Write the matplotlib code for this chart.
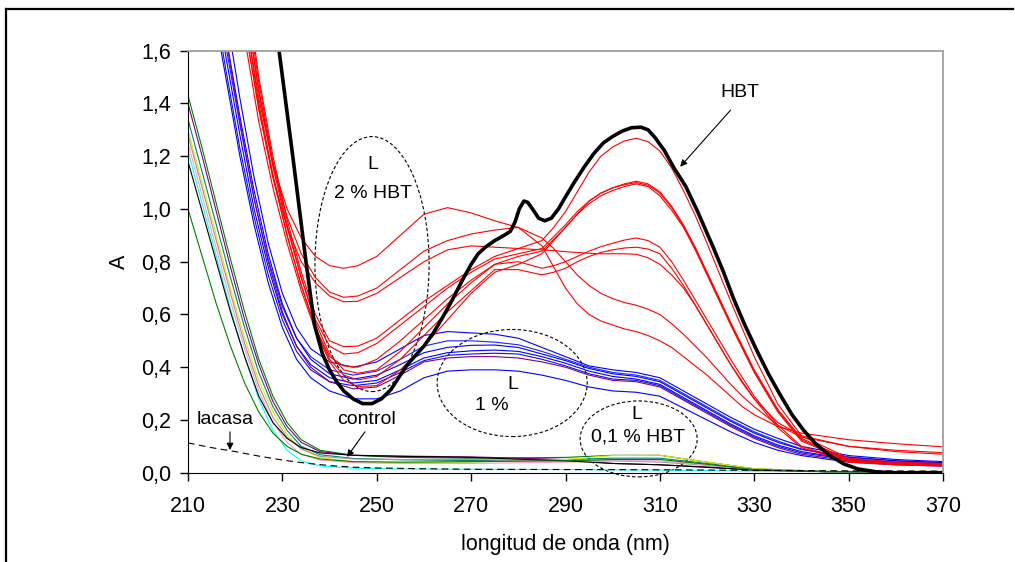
import matplotlib
matplotlib.use("Agg")
import matplotlib.pyplot as plt
from matplotlib.patches import Ellipse
from matplotlib.lines import Line2D
from matplotlib.ticker import FuncFormatter

plt.rcParams["font.family"] = ["Liberation Sans", "DejaVu Sans"]

# HBT alone (thick black)
wl_hbt = [226, 229.3, 232.2, 235, 236.8, 238.5, 240, 241.5, 243, 245, 247, 249, 251, 253, 255,
          256.5, 258, 260, 262, 264, 266, 268, 270, 271.5, 273, 275, 277, 278.3, 279.3, 280.2,
          281.2, 282, 283, 284.3, 285.6, 287, 288.5, 290.3, 292, 294, 296, 298, 300, 302, 304,
          306, 307.5, 309, 311, 313, 315.5, 318, 321.3, 323.5, 325.5, 328, 330.5, 333, 335.5,
          338, 340.5, 343, 346, 349, 352, 356, 360, 370]
a_hbt = [2.05, 1.6, 1.2, 0.8, 0.56, 0.45, 0.39, 0.345, 0.31, 0.28, 0.262, 0.262, 0.28, 0.315, 0.37,
         0.41, 0.44, 0.48, 0.53, 0.59, 0.655, 0.725, 0.79, 0.83, 0.855, 0.88, 0.9, 0.915, 0.95, 1.0,
         1.03, 1.025, 1.0, 0.965, 0.955, 0.965, 1.0, 1.055, 1.105, 1.16, 1.21, 1.25, 1.275, 1.295, 1.308,
         1.31, 1.3, 1.27, 1.22, 1.155, 1.085, 0.99, 0.855, 0.76, 0.665, 0.56, 0.465, 0.375, 0.295,
         0.22, 0.16, 0.11, 0.065, 0.033, 0.014, 0.003, 0.0, 0.0]

# L 2 % HBT (red)
wl_red = [222, 225, 228, 231, 234, 237, 240, 243, 246, 250, 255, 260, 265, 270, 275, 280, 285,
          287.5, 290, 292.5, 295, 297.5, 300, 302.5, 305, 307.5, 310, 312.5, 315, 317.5, 320,
          322.5, 325, 327.5, 330, 335, 340, 350, 360, 370]
red = [
    [1.75, 1.42, 1.17, 1.0, 0.89, 0.82, 0.785, 0.775, 0.785, 0.82, 0.9, 0.98, 1.005, 0.985, 0.955, 0.93, 0.86,
     0.78, 0.70, 0.64, 0.60, 0.575, 0.56, 0.545, 0.535, 0.52, 0.50, 0.475, 0.44, 0.405, 0.37,
     0.33, 0.29, 0.25, 0.22, 0.175, 0.15, 0.125, 0.11, 0.098],
    [1.8, 1.45, 1.17, 0.97, 0.83, 0.74, 0.685, 0.665, 0.67, 0.70, 0.77, 0.84, 0.88, 0.905, 0.92, 0.93, 0.89,
     0.85, 0.80, 0.75, 0.71, 0.68, 0.66, 0.645, 0.635, 0.62, 0.60, 0.565, 0.525, 0.48, 0.435,
     0.385, 0.335, 0.29, 0.25, 0.18, 0.135, 0.1, 0.085, 0.076],
    [1.7, 1.38, 1.12, 0.93, 0.80, 0.72, 0.67, 0.648, 0.65, 0.68, 0.74, 0.80, 0.845, 0.86, 0.855, 0.85, 0.845,
     0.842, 0.838, 0.835, 0.832, 0.83, 0.83, 0.83, 0.828, 0.815, 0.79, 0.75, 0.70, 0.635, 0.56,
     0.485, 0.41, 0.34, 0.28, 0.19, 0.14, 0.1, 0.08, 0.07],
    [1.9, 1.5, 1.2, 0.96, 0.76, 0.6, 0.5, 0.478, 0.48, 0.51, 0.58, 0.65, 0.71, 0.77, 0.82, 0.85, 0.88,
     0.93, 0.99, 1.065, 1.14, 1.20, 1.235, 1.258, 1.268, 1.255, 1.22, 1.155, 1.07, 0.975, 0.87,
     0.76, 0.65, 0.545, 0.44, 0.26, 0.14, 0.055, 0.04, 0.035],
    [1.8, 1.45, 1.16, 0.93, 0.74, 0.58, 0.48, 0.45, 0.455, 0.49, 0.56, 0.63, 0.70, 0.76, 0.81, 0.83, 0.85,
     0.895, 0.94, 0.99, 1.03, 1.06, 1.08, 1.095, 1.105, 1.095, 1.065, 1.01, 0.94, 0.855, 0.76,
     0.665, 0.57, 0.48, 0.39, 0.24, 0.13, 0.05, 0.037, 0.032],
    [1.7, 1.38, 1.12, 0.9, 0.71, 0.55, 0.44, 0.405, 0.40, 0.43, 0.5, 0.58, 0.66, 0.73, 0.79, 0.82, 0.84,
     0.885, 0.93, 0.98, 1.02, 1.05, 1.07, 1.085, 1.095, 1.085, 1.05, 0.995, 0.93, 0.845, 0.75,
     0.655, 0.56, 0.47, 0.38, 0.23, 0.12, 0.045, 0.033, 0.028],
    [1.85, 1.48, 1.18, 0.94, 0.74, 0.57, 0.45, 0.39, 0.377, 0.39, 0.46, 0.55, 0.64, 0.72, 0.79, 0.80, 0.775,
     0.785, 0.80, 0.82, 0.84, 0.857, 0.87, 0.882, 0.89, 0.88, 0.855, 0.80, 0.73, 0.655, 0.58,
     0.505, 0.43, 0.36, 0.29, 0.18, 0.1, 0.045, 0.032, 0.027],
    [1.75, 1.4, 1.13, 0.9, 0.71, 0.55, 0.43, 0.37, 0.352, 0.365, 0.43, 0.52, 0.61, 0.69, 0.77, 0.77, 0.75,
     0.76, 0.775, 0.8, 0.82, 0.835, 0.845, 0.852, 0.855, 0.848, 0.83, 0.775, 0.71, 0.635, 0.56,
     0.485, 0.41, 0.345, 0.28, 0.17, 0.095, 0.04, 0.03, 0.025],
    [1.65, 1.33, 1.08, 0.87, 0.69, 0.54, 0.42, 0.35, 0.327, 0.33, 0.39, 0.48, 0.58, 0.68, 0.76, 0.79, 0.83,
     0.88, 0.93, 0.98, 1.03, 1.06, 1.08, 1.092, 1.10, 1.09, 1.06, 1.005, 0.935, 0.85, 0.755,
     0.66, 0.565, 0.475, 0.385, 0.235, 0.125, 0.047, 0.035, 0.03],
]

# L 1 % (blue, one purple)
wl_blue = [215, 218, 221, 224, 227, 230, 233, 236, 240, 245, 250, 255, 260, 265, 270, 275, 280,
           285, 290, 295, 300, 305, 310, 315, 320, 325, 330, 335, 340, 350, 360, 370]
blue = [
    [2.1, 1.75, 1.42, 1.12, 0.87, 0.68, 0.55, 0.47, 0.42, 0.40, 0.42, 0.47, 0.52, 0.535, 0.53, 0.525,
     0.51, 0.475, 0.44, 0.405, 0.39, 0.38, 0.36, 0.31, 0.26, 0.21, 0.165, 0.13, 0.1, 0.065, 0.05, 0.042],
    [1.95, 1.62, 1.32, 1.04, 0.81, 0.63, 0.51, 0.44, 0.39, 0.37, 0.385, 0.43, 0.48, 0.5, 0.5, 0.495,
     0.485, 0.46, 0.43, 0.40, 0.38, 0.37, 0.35, 0.30, 0.25, 0.2, 0.155, 0.12, 0.09, 0.06, 0.045, 0.038],
    [2.0, 1.66, 1.35, 1.07, 0.83, 0.64, 0.51, 0.43, 0.375, 0.355, 0.37, 0.41, 0.455, 0.475, 0.483, 0.484,
     0.475, 0.45, 0.425, 0.395, 0.375, 0.365, 0.345, 0.295, 0.245, 0.195, 0.15, 0.115, 0.088, 0.058, 0.045, 0.038],
    [1.9, 1.58, 1.28, 1.0, 0.78, 0.6, 0.48, 0.41, 0.36, 0.34, 0.35, 0.39, 0.435, 0.455, 0.462, 0.465,
     0.46, 0.44, 0.415, 0.385, 0.365, 0.355, 0.335, 0.285, 0.235, 0.185, 0.14, 0.105, 0.08, 0.052, 0.04, 0.034],
    [1.85, 1.53, 1.23, 0.97, 0.75, 0.58, 0.46, 0.39, 0.345, 0.33, 0.34, 0.38, 0.425, 0.445, 0.45, 0.453,
     0.45, 0.43, 0.405, 0.375, 0.355, 0.35, 0.33, 0.28, 0.23, 0.18, 0.135, 0.1, 0.075, 0.05, 0.038, 0.032],
    [2.0, 1.65, 1.33, 1.04, 0.8, 0.61, 0.48, 0.4, 0.345, 0.318, 0.325, 0.37, 0.42, 0.435, 0.44, 0.44,
     0.435, 0.42, 0.4, 0.37, 0.35, 0.345, 0.325, 0.275, 0.225, 0.175, 0.13, 0.095, 0.07, 0.045, 0.035, 0.03],
    [1.8, 1.5, 1.2, 0.94, 0.72, 0.55, 0.43, 0.36, 0.31, 0.28, 0.28, 0.31, 0.36, 0.385, 0.39, 0.39,
     0.385, 0.37, 0.35, 0.325, 0.31, 0.305, 0.29, 0.245, 0.2, 0.155, 0.115, 0.085, 0.065, 0.04, 0.03, 0.025],
]
blue_colors = ["#0000ff", "#2020ff", "#0000ff", "#0000ff", "#1010e0", "#800080", "#0000ff"]

# control and L 0,1 % HBT (thin coloured)
wl_ctl = [210, 213, 216, 219, 222, 225, 228, 231, 234, 238, 245, 255, 270, 290, 300, 310, 320, 330, 345, 370]
ctl = [
    [1.43, 1.23, 1.02, 0.81, 0.61, 0.43, 0.29, 0.19, 0.125, 0.085, 0.066, 0.058, 0.055, 0.058, 0.066, 0.066, 0.04, 0.015, 0.005, 0.003],
    [1.40, 1.2, 0.99, 0.78, 0.58, 0.41, 0.27, 0.175, 0.115, 0.08, 0.066, 0.063, 0.06, 0.05, 0.035, 0.03, 0.022, 0.01, 0.004, 0.003],
    [1.34, 1.14, 0.94, 0.74, 0.55, 0.38, 0.25, 0.16, 0.1, 0.068, 0.054, 0.049, 0.046, 0.05, 0.055, 0.055, 0.035, 0.013, 0.004, 0.003],
    [1.30, 1.1, 0.9, 0.7, 0.51, 0.35, 0.23, 0.145, 0.09, 0.057, 0.042, 0.038, 0.04, 0.05, 0.065, 0.066, 0.04, 0.015, 0.005, 0.003],
    [1.28, 1.08, 0.88, 0.68, 0.49, 0.33, 0.21, 0.135, 0.09, 0.062, 0.052, 0.05, 0.05, 0.045, 0.045, 0.04, 0.028, 0.012, 0.004, 0.003],
    [1.25, 1.05, 0.85, 0.65, 0.47, 0.31, 0.19, 0.115, 0.07, 0.048, 0.038, 0.035, 0.035, 0.04, 0.045, 0.045, 0.03, 0.012, 0.004, 0.003],
    [1.22, 1.02, 0.82, 0.62, 0.44, 0.28, 0.16, 0.085, 0.045, 0.026, 0.017, 0.014, 0.013, 0.012, 0.011, 0.01, 0.008, 0.006, 0.004, 0.003],
    [1.18, 0.99, 0.8, 0.61, 0.44, 0.29, 0.19, 0.13, 0.095, 0.075, 0.066, 0.062, 0.058, 0.045, 0.035, 0.03, 0.02, 0.01, 0.004, 0.003],
    [1.0, 0.82, 0.64, 0.48, 0.34, 0.23, 0.15, 0.1, 0.07, 0.052, 0.042, 0.04, 0.042, 0.045, 0.05, 0.05, 0.032, 0.012, 0.004, 0.003],
]
ctl_colors = ["#008000", "#800080", "#008080", "#e6e600", "#999999", "#ff99cc", "#00ffff", "#000000", "#008000"]

# lacasa (dashed)
wl_lac = [210, 215, 220, 225, 230, 235, 240, 245, 250, 260, 270, 290, 310, 330, 350, 370]
a_lac = [0.113, 0.095, 0.08, 0.063, 0.048, 0.036, 0.027, 0.021, 0.018, 0.015, 0.013, 0.012, 0.011, 0.009, 0.007, 0.006]

x_ticks = [210, 230, 250, 270, 290, 310, 330, 350, 370]
y_ticks = [0.0, 0.2, 0.4, 0.6, 0.8, 1.0, 1.2, 1.4, 1.6]

fig = plt.figure(figsize=(10.15, 5.62), dpi=100)
ax = fig.add_axes([188 / 1015, 1 - 472.7 / 562, 755 / 1015, 422 / 562])

for vals, c in zip(ctl, ctl_colors):
    ax.plot(wl_ctl, vals, color=c, lw=0.8)
ax.plot(wl_lac, a_lac, color="black", lw=0.8, dashes=(6, 4))
for vals, c in zip(blue, blue_colors):
    ax.plot(wl_blue, vals, color=c, lw=0.8)
for vals in red:
    ax.plot(wl_red, vals, color="#ff0000", lw=0.8)
ax.plot(wl_hbt, a_hbt, color="black", lw=2.6)

ax.set_xlim(210, 370)
ax.set_ylim(0, 1.6)
ax.set_xticks(x_ticks)
ax.set_yticks(y_ticks)
ax.yaxis.set_major_formatter(FuncFormatter(lambda v, p: f"{v:.1f}".replace(".", ",")))
ax.tick_params(direction="out", length=6, width=1, labelsize=15.5, pad=6)
ax.tick_params(axis="x", pad=11)
ax.spines["top"].set_color("#a0a0a0")
ax.spines["right"].set_color("#a0a0a0")
ax.spines["top"].set_linewidth(1.3)
ax.spines["right"].set_linewidth(1.3)
ax.set_xlabel("longitud de onda (nm)", fontsize=15.5, labelpad=12)
ax.set_ylabel("A", fontsize=15.5, labelpad=8)

ell = dict(fill=False, ec="black", lw=0.8, ls=(0, (3, 2)), clip_on=False)
ax.add_patch(Ellipse((249.0, 0.791), 24.2, 0.967, **ell))
ax.add_patch(Ellipse((278.7, 0.34), 31.8, 0.406, **ell))
ax.add_patch(Ellipse((305.5, 0.128), 24.8, 0.288, **ell))

fs = 14
ax.text(249.2, 1.17, "L", fontsize=fs, ha="center", va="center")
ax.text(249.2, 1.06, "2 % HBT", fontsize=fs, ha="center", va="center")
ax.text(278.9, 0.333, "L", fontsize=fs, ha="center", va="center")
ax.text(274.4, 0.256, "1 %", fontsize=fs, ha="center", va="center")
ax.text(305.1, 0.22, "L", fontsize=fs, ha="center", va="center")
ax.text(305.4, 0.135, "0,1 % HBT", fontsize=fs, ha="center", va="center")
ax.text(327, 1.44, "HBT", fontsize=fs, ha="center", va="center")
ax.text(217.8, 0.2, "lacasa", fontsize=fs, ha="center", va="center")
ax.text(247.9, 0.2, "control", fontsize=fs, ha="center", va="center")

arr = dict(arrowstyle="-|>", color="black", lw=0.8, mutation_scale=10, shrinkA=0, shrinkB=0)
ax.annotate("", xy=(314.3, 1.16), xytext=(325.0, 1.375), arrowprops=arr)
ax.annotate("", xy=(218.9, 0.086), xytext=(218.9, 0.155), arrowprops=arr)
ax.annotate("", xy=(243.7, 0.06), xytext=(247.5, 0.155), arrowprops=arr)

# outer frame (top and left edges only)
fig.add_artist(Line2D([6 / 1015, 1013 / 1015], [1 - 9 / 562, 1 - 9 / 562], color="black", lw=1.6))
fig.add_artist(Line2D([6 / 1015, 6 / 1015], [0, 1 - 9 / 562], color="black", lw=1.6))

fig.savefig("out.png", dpi=100)
